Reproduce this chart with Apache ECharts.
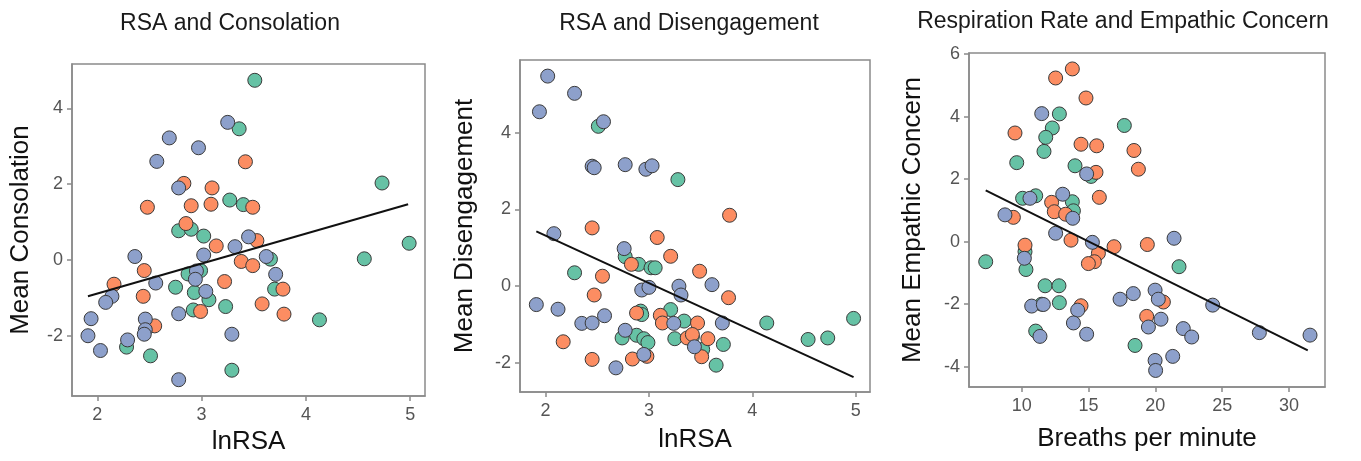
<!DOCTYPE html>
<html>
<head>
<meta charset="utf-8">
<script src="https://cdn.jsdelivr.net/npm/echarts@6.0.0/dist/echarts.min.js"></script>
<style>
html, body { margin: 0; padding: 0; background: #fff; }
#main { width: 1361px; height: 461px; }
</style>
</head>
<body>
<div id="main"></div>
<script>
// panel titles and axis names
var titles = ['RSA and Consolation', 'RSA and Disengagement', 'Respiration Rate and Empathic Concern'];
var xNames = ['lnRSA', 'lnRSA', 'Breaths per minute'];
var yNames = ['Mean Consolation', 'Mean Disengagement', 'Mean Empathic Concern'];

// tick values
var rsaTicks = [2, 3, 4, 5];
var consolationTicks = [-2, 0, 2, 4];
var disengagementTicks = [-2, 0, 2, 4];
var breathTicks = [10, 15, 20, 25, 30];
var empathicTicks = [-4, -2, 0, 2, 4, 6];

// RSA and Consolation  [lnRSA, mean consolation]
var consolationBlue = [[3.25, 3.63], [2.69, 3.22], [2.97, 2.96], [2.57, 2.60], [2.78, 1.90], [3.45, 0.61], [3.32, 0.35], [3.02, 0.13], [2.36, 0.09], [3.62, 0.09], [3.71, -0.38], [2.95, -0.29], [2.94, -0.51], [2.56, -0.61], [3.04, -0.83], [2.14, -0.96], [2.08, -1.12], [2.78, -1.42], [1.94, -1.55], [2.46, -1.56], [2.46, -1.84], [2.45, -1.96], [1.91, -2.00], [2.29, -2.11], [3.29, -1.96], [2.03, -2.39], [2.78, -3.16]];
var consolationOrange = [[3.42, 2.59], [2.83, 2.02], [3.10, 1.90], [2.48, 1.39], [2.90, 1.43], [3.09, 1.47], [3.49, 1.39], [2.85, 0.96], [3.53, 0.51], [3.14, 0.37], [3.38, -0.04], [3.49, -0.15], [2.45, -0.28], [2.16, -0.64], [3.22, -0.57], [2.44, -0.96], [3.78, -0.77], [3.58, -1.16], [2.99, -1.36], [3.79, -1.43], [2.55, -1.74]];
var consolationGreen = [[3.51, 4.74], [3.36, 3.46], [4.73, 2.03], [3.27, 1.58], [3.40, 1.46], [2.78, 0.77], [2.90, 0.81], [3.02, 0.63], [4.99, 0.44], [3.66, 0.02], [4.56, 0.03], [2.87, -0.37], [2.99, -0.28], [2.75, -0.72], [2.93, -0.86], [3.07, -1.05], [3.23, -1.23], [2.92, -1.32], [3.70, -0.77], [4.13, -1.58], [2.28, -2.30], [2.51, -2.53], [3.29, -2.91]];
var consolationFit = [[1.91, -0.96], [4.98, 1.47]];

// RSA and Disengagement  [lnRSA, mean disengagement]
var disengagementBlue = [[2.02, 5.48], [2.28, 5.03], [1.94, 4.55], [2.56, 4.29], [2.45, 3.13], [2.47, 3.09], [2.77, 3.17], [2.97, 3.05], [3.03, 3.14], [2.08, 1.37], [2.76, 0.98], [2.93, -0.10], [3.00, -0.03], [3.29, 0.00], [3.31, -0.23], [3.61, 0.04], [1.91, -0.48], [2.12, -0.60], [2.35, -0.97], [2.45, -0.96], [2.57, -0.77], [2.77, -1.15], [3.71, -0.96], [3.24, -0.97], [3.44, -1.58], [2.95, -1.78], [2.68, -2.13]];
var disengagementOrange = [[3.78, 1.85], [2.45, 1.52], [3.08, 1.27], [3.21, 0.78], [2.83, 0.57], [3.49, 0.39], [2.55, 0.26], [2.47, -0.23], [3.77, -0.30], [3.11, -0.76], [3.13, -0.96], [3.47, -0.96], [2.88, -0.70], [3.37, -1.35], [3.42, -1.26], [3.57, -1.37], [2.17, -1.45], [2.45, -1.91], [2.84, -1.90], [2.98, -1.83], [3.51, -1.84]];
var disengagementGreen = [[2.51, 4.17], [3.28, 2.78], [2.77, 0.77], [2.90, 0.57], [3.02, 0.48], [3.06, 0.48], [2.28, 0.35], [2.92, -0.65], [2.93, -0.74], [3.21, -0.61], [3.34, -0.91], [4.14, -0.96], [4.98, -0.84], [2.74, -1.35], [2.88, -1.28], [2.95, -1.37], [2.99, -1.47], [3.25, -1.37], [3.42, -1.32], [3.72, -1.52], [4.54, -1.39], [4.73, -1.35], [3.52, -1.65], [3.65, -2.06]];
var disengagementFit = [[1.91, 1.43], [4.98, -2.37]];

// Respiration Rate and Empathic Concern  [breaths per minute, mean empathic concern]
var empathicBlue = [[11.50, 4.10], [14.86, 2.17], [13.07, 1.52], [10.62, 1.39], [8.75, 0.86], [13.82, 0.75], [12.54, 0.27], [15.29, -0.02], [21.40, 0.11], [10.20, -0.53], [17.36, -1.84], [18.35, -1.66], [19.98, -1.55], [20.22, -1.84], [10.75, -2.06], [11.62, -2.01], [14.19, -2.19], [24.29, -2.03], [20.42, -2.48], [13.87, -2.60], [19.48, -2.73], [22.09, -2.78], [14.86, -2.96], [22.72, -3.05], [27.78, -2.91], [11.37, -3.03], [31.57, -2.99], [21.30, -3.67], [19.98, -3.80], [20.02, -4.12]];
var empathicOrange = [[13.79, 5.53], [12.54, 5.24], [14.81, 4.60], [9.50, 3.48], [14.44, 3.12], [15.61, 3.07], [18.40, 2.92], [18.73, 2.32], [15.56, 2.22], [15.81, 1.42], [12.24, 1.26], [12.44, 0.96], [13.29, 0.88], [9.38, 0.78], [13.69, 0.05], [10.25, -0.11], [16.91, -0.16], [19.40, -0.09], [15.74, -0.37], [15.44, -0.64], [14.99, -0.70], [20.60, -1.93], [14.44, -2.05], [19.35, -2.39]];
var empathicGreen = [[12.82, 4.09], [17.68, 3.72], [12.29, 3.64], [11.80, 3.34], [11.67, 2.89], [9.63, 2.53], [13.99, 2.43], [15.19, 2.09], [11.05, 1.47], [10.07, 1.39], [13.79, 1.28], [13.87, 0.99], [7.31, -0.64], [10.25, -0.32], [10.32, -0.89], [21.77, -0.80], [11.75, -1.41], [12.79, -1.41], [11.50, -2.00], [12.82, -1.95], [11.05, -2.86], [18.48, -3.32]];
var empathicFit = [[7.31, 1.64], [31.40, -3.48]];

var FONT = '"Liberation Sans", Arial, sans-serif';
var BLUE = '#8DA0CB', ORANGE = '#FC8D62', GREEN = '#66C2A5';

var grids = [
  { left: 72, top: 64, width: 353, height: 332 },
  { left: 520, top: 60, width: 350, height: 332 },
  { left: 969, top: 53, width: 356, height: 334 }
];
var titleCenters = [230, 689, 1123];
var titleTops = [12, 12, 10];
var xRanges = [[1.757, 5.142], [1.752, 5.139], [6.06, 32.69]];
var yRanges = [[-3.59, 5.17], [-2.76, 5.9], [-4.65, 6.04]];
var xTickSets = [rsaTicks, rsaTicks, breathTicks];
var yTickSets = [consolationTicks, disengagementTicks, empathicTicks];
var xGaps = [31, 35, 39];
var yGaps = [38, 42, 43];

function scatter(data, color, i) {
  return {
    type: 'scatter',
    xAxisIndex: i,
    yAxisIndex: i,
    data: data,
    symbolSize: 14,
    itemStyle: { color: color, borderColor: '#3a3a3a', borderWidth: 1, opacity: 1 },
    z: 2
  };
}

function fitLine(data, i) {
  return {
    type: 'line',
    xAxisIndex: i,
    yAxisIndex: i,
    data: data,
    symbol: 'none',
    lineStyle: { color: '#111', width: 2 },
    z: 5
  };
}

var chart = echarts.init(document.getElementById('main'), null, { renderer: 'canvas' });

var option = {
  animation: false,
  backgroundColor: '#fff',
  title: titles.map(function (t, i) {
    return {
      text: t,
      left: titleCenters[i],
      top: titleTops[i],
      textAlign: 'center',
      padding: 0,
      textStyle: { fontFamily: FONT, fontSize: 23, fontWeight: 'normal', color: '#1a1a1a' }
    };
  }),
  grid: grids.map(function (g) {
    return {
      left: g.left, top: g.top, width: g.width, height: g.height,
      show: true, borderColor: '#8a8a8a', borderWidth: 1.5, backgroundColor: 'transparent'
    };
  }),
  xAxis: grids.map(function (g, i) {
    return {
      type: 'value',
      gridIndex: i,
      min: xRanges[i][0],
      max: xRanges[i][1],
      name: xNames[i],
      nameLocation: 'middle',
      nameGap: xGaps[i],
      nameTextStyle: { fontFamily: FONT, fontSize: 26, color: '#111' },
      axisLine: { show: true, onZero: false, lineStyle: { color: '#8a8a8a', width: 1.5 } },
      axisTick: { show: true, length: 5, customValues: xTickSets[i], lineStyle: { color: '#8a8a8a', width: 1.5 } },
      axisLabel: { customValues: xTickSets[i], margin: 10, fontFamily: FONT, fontSize: 18, color: '#555' },
      splitLine: { show: false }
    };
  }),
  yAxis: grids.map(function (g, i) {
    return {
      type: 'value',
      gridIndex: i,
      min: yRanges[i][0],
      max: yRanges[i][1],
      name: yNames[i],
      nameLocation: 'middle',
      nameGap: yGaps[i],
      nameTextStyle: { fontFamily: FONT, fontSize: 26, color: '#111' },
      axisLine: { show: true, onZero: false, lineStyle: { color: '#8a8a8a', width: 1.5 } },
      axisTick: { show: true, length: 5, customValues: yTickSets[i], lineStyle: { color: '#8a8a8a', width: 1.5 } },
      axisLabel: { customValues: yTickSets[i], margin: 9, fontFamily: FONT, fontSize: 18, color: '#555' },
      splitLine: { show: false }
    };
  }),
  series: [
    scatter(consolationGreen, GREEN, 0),
    scatter(consolationOrange, ORANGE, 0),
    scatter(consolationBlue, BLUE, 0),
    fitLine(consolationFit, 0),
    scatter(disengagementGreen, GREEN, 1),
    scatter(disengagementOrange, ORANGE, 1),
    scatter(disengagementBlue, BLUE, 1),
    fitLine(disengagementFit, 1),
    scatter(empathicGreen, GREEN, 2),
    scatter(empathicOrange, ORANGE, 2),
    scatter(empathicBlue, BLUE, 2),
    fitLine(empathicFit, 2)
  ]
};

chart.setOption(option);
</script>
</body>
</html>
